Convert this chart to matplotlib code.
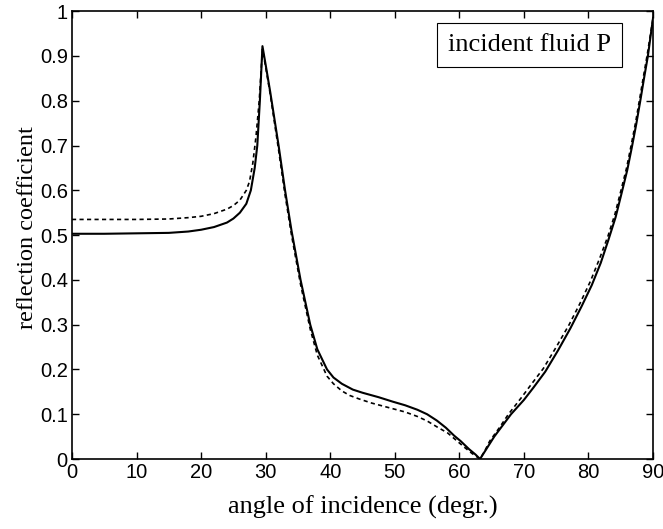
import numpy as np
import matplotlib.pyplot as plt

# reflection coefficient vs angle of incidence

# solid curve
ANGLE_SOLID = [0, 5, 10, 15, 18, 20, 22, 24, 25, 26, 27, 27.7, 28.3, 28.7, 29.1, 29.5,
               30.0, 30.7, 32.0, 33.0, 34.0, 35.4, 36.9, 38.0, 39.5, 40.5, 41.8, 43.5, 45.0,
               47.5, 49.7, 51.6, 53.5, 55.0, 56.5, 57.9, 59.2, 60.2, 61.5, 62.5, 63.2,
               64.3, 65.4, 66.7, 68.0, 70.0, 71.5, 73.3, 75.3, 77.2, 78.9, 80.5, 81.9,
               83.1, 84.2, 85.1, 86.0, 86.7, 87.4, 88.0, 88.6, 89.2, 90.0]
R_SOLID = [0.503, 0.503, 0.504, 0.505, 0.508, 0.512, 0.518, 0.528, 0.537, 0.550, 0.570, 0.600,
           0.650, 0.700, 0.800, 0.922,
           0.880, 0.820, 0.700, 0.600, 0.510, 0.400, 0.300, 0.245, 0.200, 0.182, 0.168, 0.155,
           0.148, 0.138, 0.128, 0.120, 0.110, 0.100, 0.086, 0.070, 0.052, 0.040, 0.022, 0.010,
           0.000, 0.025, 0.050, 0.075, 0.100, 0.132, 0.160, 0.195, 0.243, 0.292, 0.340, 0.388,
           0.438, 0.490, 0.540, 0.592, 0.645, 0.695, 0.748, 0.798, 0.850, 0.900, 0.985]

# dashed curve
ANGLE_DASHED = [0, 5, 10, 15, 18, 20, 22, 24, 25, 26, 27, 27.5, 28.0, 28.5, 29.0, 29.5,
                30.0, 30.7, 32.0, 33.0, 34.0, 35.4, 36.9, 38.0, 39.5, 40.5, 41.8, 43.0, 44.5,
                46.4, 49.0, 51.6, 53.5, 55.0, 56.5, 58.2, 59.5, 60.8, 62.0, 63.2,
                64.0, 64.7, 66.2, 67.6, 69.6, 71.1, 73.0, 75.0, 77.0, 78.7, 80.3, 81.7,
                83.0, 84.1, 85.0, 85.9, 86.6, 87.3, 87.9, 88.5, 89.1, 90.0]
R_DASHED = [0.535, 0.535, 0.535, 0.536, 0.539, 0.542, 0.548, 0.558, 0.566, 0.578, 0.600, 0.620,
            0.660, 0.720, 0.800, 0.915,
            0.875, 0.815, 0.690, 0.590, 0.500, 0.390, 0.290, 0.232, 0.185, 0.168, 0.152, 0.142,
            0.134, 0.125, 0.115, 0.105, 0.095, 0.085, 0.072, 0.058, 0.042, 0.026, 0.012,
            0.000, 0.020, 0.040, 0.070, 0.100, 0.137, 0.166, 0.202, 0.250, 0.300, 0.348, 0.397,
            0.447, 0.497, 0.547, 0.598, 0.650, 0.700, 0.752, 0.802, 0.853, 0.903, 0.985]

X_TICKS = [0, 10, 20, 30, 40, 50, 60, 70, 80, 90]
Y_TICKS = [0, 0.1, 0.2, 0.3, 0.4, 0.5, 0.6, 0.7, 0.8, 0.9, 1]
Y_TICK_LABELS = ['0', '0.1', '0.2', '0.3', '0.4', '0.5', '0.6', '0.7', '0.8', '0.9', '1']

SERIF = ['Liberation Serif', 'DejaVu Serif']
SANS = ['Liberation Sans', 'DejaVu Sans']

fig = plt.figure(figsize=(6.63, 5.29), dpi=100)
ax = fig.add_axes([0.1086, 0.1323, 0.8764, 0.8465])

ax.plot(ANGLE_SOLID, R_SOLID, color='black', lw=1.5, ls='-')
ax.plot(ANGLE_DASHED, R_DASHED, color='black', lw=1.2, ls=(0, (2.5, 2)))

ax.set_xlim(0, 90)
ax.set_ylim(0, 1)
ax.set_xticks(X_TICKS)
ax.set_xticklabels([str(t) for t in X_TICKS], family=SANS, fontsize=14.5)
ax.set_yticks(Y_TICKS)
ax.set_yticklabels(Y_TICK_LABELS, family=SANS, fontsize=14.5)
ax.tick_params(direction='in', length=5, width=1, top=True, right=True, pad=3)
for sp in ax.spines.values():
    sp.set_linewidth(1.2)

ax.set_xlabel('angle of incidence (degr.)', family=SERIF, fontsize=19, labelpad=10)
ax.set_ylabel('reflection coefficient', family=SERIF, fontsize=17.5, labelpad=6)
ax.yaxis.set_label_coords(-0.058, 0.516)

ax.text(0.787, 0.924, 'incident fluid P', transform=ax.transAxes, ha='center', va='center',
        family=SERIF, fontsize=19,
        bbox=dict(boxstyle='square,pad=0.42', facecolor='white', edgecolor='black', lw=0.8))

fig.savefig('out.png', dpi=100)
